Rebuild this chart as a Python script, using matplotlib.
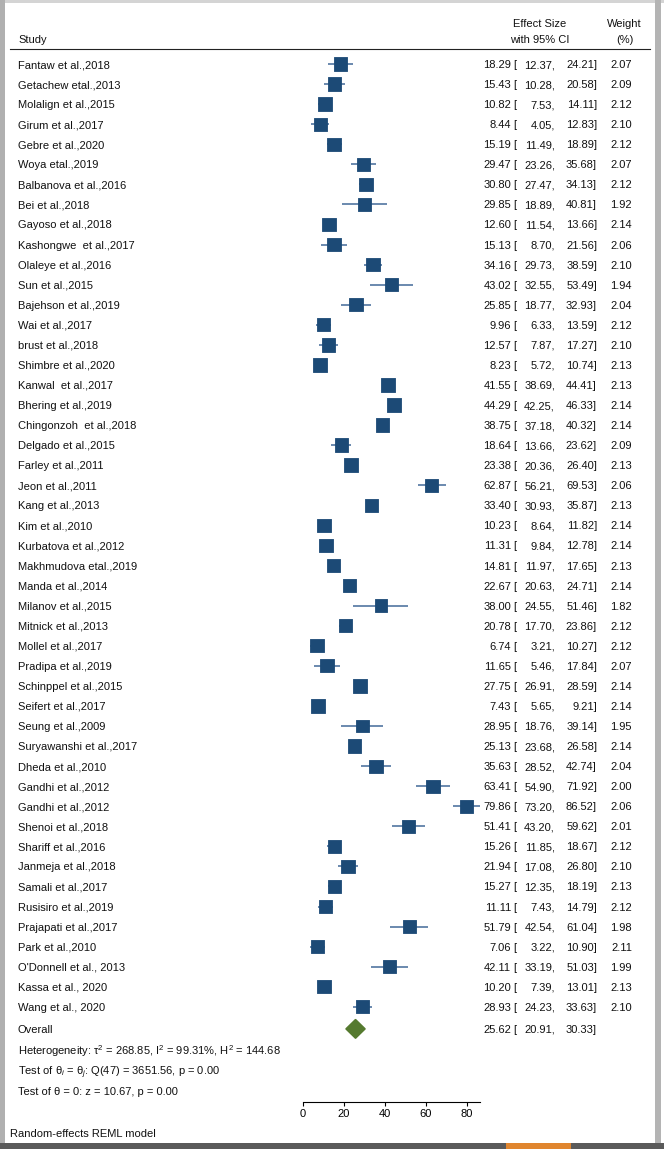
import matplotlib
matplotlib.use("Agg")
import matplotlib.pyplot as plt
from matplotlib.patches import Rectangle
from matplotlib.lines import Line2D
from matplotlib.transforms import blended_transform_factory

plt.rcParams['font.family'] = ['Liberation Sans', 'DejaVu Sans']
plt.rcParams['mathtext.fontset'] = 'custom'
plt.rcParams['mathtext.rm'] = 'Liberation Sans'
plt.rcParams['mathtext.it'] = 'Liberation Sans:italic'

# study data
studies = ["Fantaw et al.,2018", "Getachew etal.,2013", "Molalign et al.,2015",
           "Girum et al.,2017", "Gebre et al.,2020", "Woya etal.,2019",
           "Balbanova et al.,2016", "Bei et al.,2018", "Gayoso et al.,2018",
           "Kashongwe  et al.,2017", "Olaleye et al.,2016", "Sun et al.,2015",
           "Bajehson et al.,2019", "Wai et al.,2017", "brust et al.,2018",
           "Shimbre et al.,2020", "Kanwal  et al.,2017", "Bhering et al.,2019",
           "Chingonzoh  et al.,2018", "Delgado et al.,2015", "Farley et al.,2011",
           "Jeon et al.,2011", "Kang et al.,2013", "Kim et al.,2010",
           "Kurbatova et al.,2012", "Makhmudova etal.,2019", "Manda et al.,2014",
           "Milanov et al.,2015", "Mitnick et al.,2013", "Mollel et al.,2017",
           "Pradipa et al.,2019", "Schinppel et al.,2015", "Seifert et al.,2017",
           "Seung et al.,2009", "Suryawanshi et al.,2017", "Dheda et al.,2010",
           "Gandhi et al.,2012", "Gandhi et al.,2012", "Shenoi et al.,2018",
           "Shariff et al.,2016", "Janmeja et al.,2018", "Samali et al.,2017",
           "Rusisiro et al.,2019", "Prajapati et al.,2017", "Park et al.,2010",
           "O'Donnell et al., 2013", "Kassa et al., 2020", "Wang et al., 2020"]
effect = [18.29, 15.43, 10.82, 8.44, 15.19, 29.47, 30.80, 29.85, 12.60, 15.13,
          34.16, 43.02, 25.85, 9.96, 12.57, 8.23, 41.55, 44.29, 38.75, 18.64,
          23.38, 62.87, 33.40, 10.23, 11.31, 14.81, 22.67, 38.00, 20.78, 6.74,
          11.65, 27.75, 7.43, 28.95, 25.13, 35.63, 63.41, 79.86, 51.41, 15.26,
          21.94, 15.27, 11.11, 51.79, 7.06, 42.11, 10.20, 28.93]
lower = [12.37, 10.28, 7.53, 4.05, 11.49, 23.26, 27.47, 18.89, 11.54, 8.70,
         29.73, 32.55, 18.77, 6.33, 7.87, 5.72, 38.69, 42.25, 37.18, 13.66,
         20.36, 56.21, 30.93, 8.64, 9.84, 11.97, 20.63, 24.55, 17.70, 3.21,
         5.46, 26.91, 5.65, 18.76, 23.68, 28.52, 54.90, 73.20, 43.20, 11.85,
         17.08, 12.35, 7.43, 42.54, 3.22, 33.19, 7.39, 24.23]
upper = [24.21, 20.58, 14.11, 12.83, 18.89, 35.68, 34.13, 40.81, 13.66, 21.56,
         38.59, 53.49, 32.93, 13.59, 17.27, 10.74, 44.41, 46.33, 40.32, 23.62,
         26.40, 69.53, 35.87, 11.82, 12.78, 17.65, 24.71, 51.46, 23.86, 10.27,
         17.84, 28.59, 9.21, 39.14, 26.58, 42.74, 71.92, 86.52, 59.62, 18.67,
         26.80, 18.19, 14.79, 61.04, 10.90, 51.03, 13.01, 33.63]
weight = [2.07, 2.09, 2.12, 2.10, 2.12, 2.07, 2.12, 1.92, 2.14, 2.06,
          2.10, 1.94, 2.04, 2.12, 2.10, 2.13, 2.13, 2.14, 2.14, 2.09,
          2.13, 2.06, 2.13, 2.14, 2.14, 2.13, 2.14, 1.82, 2.12, 2.12,
          2.07, 2.14, 2.14, 1.95, 2.14, 2.04, 2.00, 2.06, 2.01, 2.12,
          2.10, 2.13, 2.12, 1.98, 2.11, 1.99, 2.13, 2.10]
overall = [25.62, 20.91, 30.33]
xticks = [0, 20, 40, 60, 80]

W, H = 664, 1149
def fx(px):
    return px / W
def fy(py):
    return 1 - py / H

fig = plt.figure(figsize=(W / 100, H / 100), dpi=100)

# plot area: 0 -> px 303, 2.05 px per unit; rows 20.06 px apart from py 64
ax = fig.add_axes([fx(280), fy(1102), fx(500) - fx(280), fy(52) - fy(1102)])
ax.set_xlim((280 - 303) / 2.05, (500 - 303) / 2.05)
ax.set_ylim((1102 - 64) / 20.06, (52 - 64) / 20.06)
ax.patch.set_visible(False)
for s in ['top', 'left', 'right']:
    ax.spines[s].set_visible(False)
ax.spines['bottom'].set_bounds(0, max(upper))
ax.spines['bottom'].set_linewidth(0.8)
ax.set_yticks([])
ax.set_xticks(xticks)
ax.tick_params(axis='x', length=3, width=0.8, pad=2, labelsize=8)

rows = list(range(len(studies)))
navy = '#1c4a76'
ax.hlines(rows, lower, upper, color='#5f80a8', lw=1.3, zorder=2)
ax.scatter(effect, rows, marker='s', s=[44 * w for w in weight], color=navy,
           linewidths=0.6, edgecolors=navy, zorder=3)

r_ov = 48.1
ax.fill([overall[1], overall[0], overall[2], overall[0]],
        [r_ov, r_ov - 0.47, r_ov, r_ov + 0.47], color='#557a2f', zorder=3)

tr = blended_transform_factory(fig.transFigure, ax.transData)
fs = 8
tc = '#111111'
va = 'center_baseline'

def ci_text(r, es, lo, hi):
    ax.text(fx(511), r, f"{es:.2f}", transform=tr, ha='right', va=va, fontsize=fs, color=tc)
    ax.text(fx(513), r, "[", transform=tr, ha='left', va=va, fontsize=fs, color=tc)
    ax.text(fx(555), r, f"{lo:.2f},", transform=tr, ha='right', va=va, fontsize=fs, color=tc)
    ax.text(fx(597), r, f"{hi:.2f}]", transform=tr, ha='right', va=va, fontsize=fs, color=tc)

for r, name in enumerate(studies):
    ax.text(fx(18), r, name, transform=tr, ha='left', va=va, fontsize=fs, color=tc)
    ci_text(r, effect[r], lower[r], upper[r])
    ax.text(fx(632), r, f"{weight[r]:.2f}", transform=tr, ha='right', va=va, fontsize=fs, color=tc)

ax.text(fx(18), r_ov, "Overall", transform=tr, ha='left', va=va, fontsize=fs, color=tc)
ci_text(r_ov, *overall)
stats = [r"Heterogeneity: τ$^2$ = 268.85, I$^2$ = 99.31%, H$^2$ = 144.68",
         r"Test of θ$_i$ = θ$_j$: Q(47) = 3651.56, p = 0.00",
         r"Test of θ = 0: z = 10.67, p = 0.00"]
for i, t in enumerate(stats):
    ax.text(fx(18), r_ov + 1.0 + 1.05 * i, t, transform=tr, ha='left', va=va,
            fontsize=fs, color=tc)

# header
fig.text(fx(18), fy(39), "Study", ha='left', va=va, fontsize=fs, color=tc)
fig.text(fx(540), fy(23), "Effect Size", ha='center', va=va, fontsize=fs, color=tc)
fig.text(fx(540), fy(39), "with 95% CI", ha='center', va=va, fontsize=fs, color=tc)
fig.text(fx(624), fy(23), "Weight", ha='center', va=va, fontsize=fs, color=tc)
fig.text(fx(625), fy(39), "(%)", ha='center', va=va, fontsize=fs, color=tc)
fig.add_artist(Line2D([fx(10), fx(650)], [fy(48.5), fy(48.5)], color='#222222', lw=0.8))
fig.text(fx(10), fy(1133), "Random-effects REML model", ha='left', va=va,
         fontsize=fs, color=tc)

# window frame
def rect(x0, y0, x1, y1, c):
    fig.add_artist(Rectangle((fx(x0), fy(y1)), fx(x1) - fx(x0), fy(y0) - fy(y1),
                             transform=fig.transFigure, color=c, lw=0))
rect(0, 0, W, 3, '#d4d4d4')
rect(0, 0, 5, 1143, '#b0b0b0')
rect(655, 0, 661, 1143, '#b4b4b4')
rect(0, 1143, W, H, '#5a5a5a')
rect(506, 1143, 571, H, '#e0852e')

fig.savefig("out.png", dpi=100)
